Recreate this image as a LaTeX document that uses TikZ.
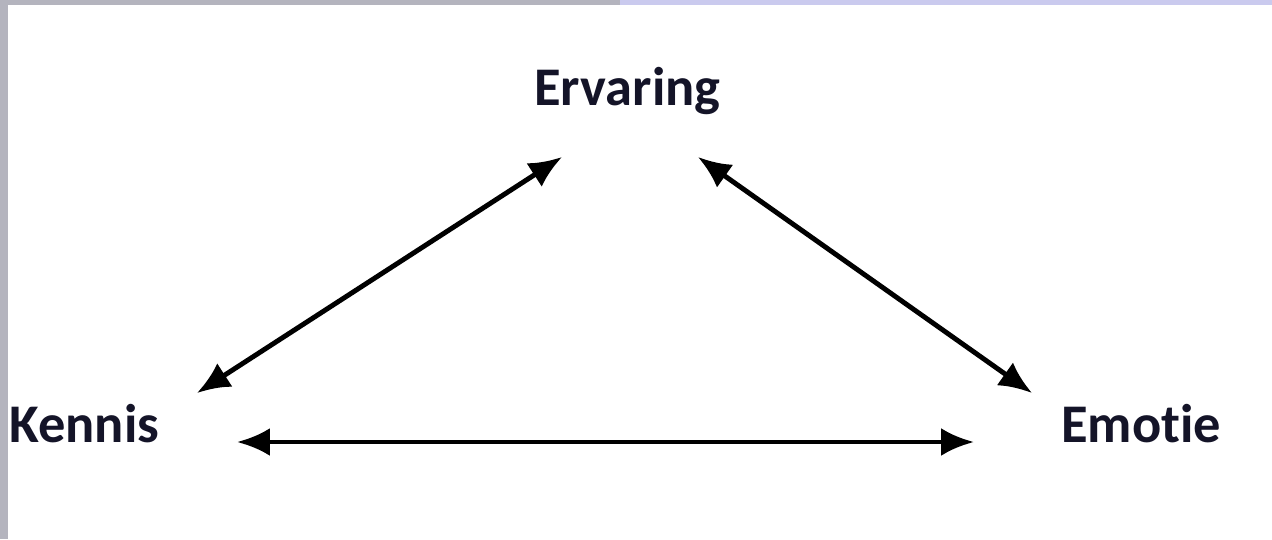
\documentclass[tikz,border=0pt]{standalone}
\usepackage{fontspec}
\setmainfont[Ligatures=CommonOff]{Carlito}
\usetikzlibrary{arrows.meta,positioning}
\definecolor{bandgray}{HTML}{B4B4BE}
\definecolor{bandblue}{HTML}{CACAEE}
\definecolor{inkblue}{HTML}{141428}
\tikzset{
  word/.style={inner sep=0pt, anchor=base west, text=inkblue,
    font=\bfseries\fontsize{31}{36}\selectfont},
  link/.style={{Latex[length=0.66cm,width=0.56cm]}-{Latex[length=0.66cm,width=0.56cm]}, line width=2.8pt}
}
\begin{document}
\begin{tikzpicture}[x=0.02cm,y=-0.02cm]
    %background
    \useasboundingbox (0,0) rectangle (1272,539);
    \fill[bandblue] (0,0) rectangle (1272,5);
    \fill[bandgray] (0,0) rectangle (620,5);
    \fill[bandgray] (0,0) rectangle (8,539);
    %states
    \node[word] (Ervaring) at (534,105) {Ervaring};
    \node[word] (Kennis) at (9,442) {Kennis};
    \node[word] (Emotie) at (1061,442) {Emotie};
    %arrow ends
    \coordinate (KE) at (197,393);
    \coordinate (EK) at (562,157);
    \coordinate (EE) at (698,157);
    \coordinate (ME) at (1032,393);
    \coordinate (KM) at (237,442);
    \coordinate (MK) at (974,442);
    %edges
    \draw[link] (KE) -- (EK);
    \draw[link] (EE) -- (ME);
    \draw[link] (KM) -- (MK);
\end{tikzpicture}
\end{document}
